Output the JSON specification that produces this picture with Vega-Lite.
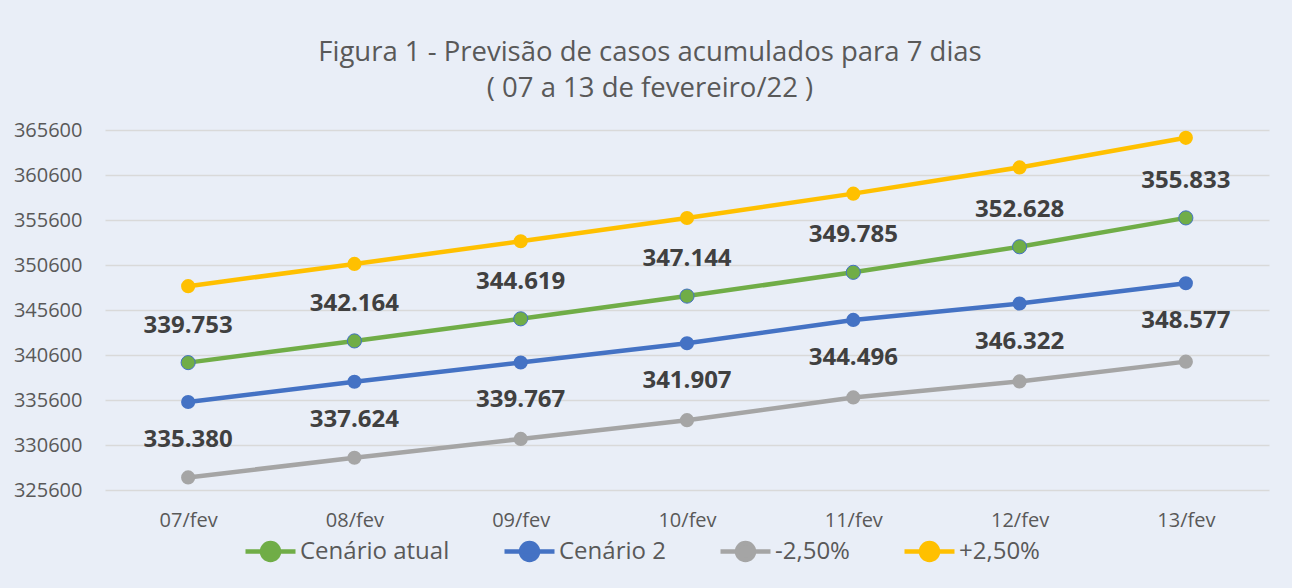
{
  "$schema": "https://vega.github.io/schema/vega-lite/v6.json",
  "width": 1164,
  "height": 360,
  "autosize": {"type": "none"},
  "padding": {"left": 105, "top": 130, "right": 23, "bottom": 98},
  "background": "#E9EEF7",
  "config": {
    "view": {"stroke": null},
    "font": "Open Sans",
    "locale": {"number": {"decimal": ",", "thousands": ".", "grouping": [3], "currency": ["", ""]}}
  },
  "title": {
    "text": ["Figura 1 - Previsão de casos acumulados para 7 dias", "( 07 a 13 de fevereiro/22 )"],
    "fontSize": 27.5,
    "fontWeight": "normal",
    "font": "Open Sans",
    "color": "#595959",
    "lineHeight": 36,
    "anchor": "middle",
    "dx": -37,
    "offset": 18
  },
  "data": {
    "values": [
      {"dia": "07/fev", "serie": "Cenário atual", "valor": 339753},
      {"dia": "08/fev", "serie": "Cenário atual", "valor": 342164},
      {"dia": "09/fev", "serie": "Cenário atual", "valor": 344619},
      {"dia": "10/fev", "serie": "Cenário atual", "valor": 347144},
      {"dia": "11/fev", "serie": "Cenário atual", "valor": 349785},
      {"dia": "12/fev", "serie": "Cenário atual", "valor": 352628},
      {"dia": "13/fev", "serie": "Cenário atual", "valor": 355833},
      {"dia": "07/fev", "serie": "Cenário 2", "valor": 335380},
      {"dia": "08/fev", "serie": "Cenário 2", "valor": 337624},
      {"dia": "09/fev", "serie": "Cenário 2", "valor": 339767},
      {"dia": "10/fev", "serie": "Cenário 2", "valor": 341907},
      {"dia": "11/fev", "serie": "Cenário 2", "valor": 344496},
      {"dia": "12/fev", "serie": "Cenário 2", "valor": 346322},
      {"dia": "13/fev", "serie": "Cenário 2", "valor": 348577},
      {"dia": "07/fev", "serie": "-2,50%", "valor": 326996},
      {"dia": "08/fev", "serie": "-2,50%", "valor": 329183},
      {"dia": "09/fev", "serie": "-2,50%", "valor": 331273},
      {"dia": "10/fev", "serie": "-2,50%", "valor": 333359},
      {"dia": "11/fev", "serie": "-2,50%", "valor": 335884},
      {"dia": "12/fev", "serie": "-2,50%", "valor": 337664},
      {"dia": "13/fev", "serie": "-2,50%", "valor": 339863},
      {"dia": "07/fev", "serie": "+2,50%", "valor": 348247},
      {"dia": "08/fev", "serie": "+2,50%", "valor": 350718},
      {"dia": "09/fev", "serie": "+2,50%", "valor": 353234},
      {"dia": "10/fev", "serie": "+2,50%", "valor": 355823},
      {"dia": "11/fev", "serie": "+2,50%", "valor": 358530},
      {"dia": "12/fev", "serie": "+2,50%", "valor": 361444},
      {"dia": "13/fev", "serie": "+2,50%", "valor": 364729}
    ]
  },
  "encoding": {
    "x": {
      "field": "dia",
      "type": "nominal",
      "sort": null,
      "scale": {"padding": 0.5},
      "axis": {
        "title": null,
        "labelAngle": 0,
        "domain": false,
        "ticks": false,
        "grid": false,
        "labelFontSize": 20,
        "labelColor": "#595959",
        "labelPadding": 20,
        "labelFont": "Open Sans"
      }
    },
    "y": {
      "field": "valor",
      "type": "quantitative",
      "scale": {"domain": [325600, 365600], "nice": false, "zero": false},
      "axis": {
        "title": null,
        "values": [325600, 330600, 335600, 340600, 345600, 350600, 355600, 360600, 365600],
        "format": "d",
        "domain": false,
        "ticks": false,
        "gridColor": "#D9D9D9",
        "gridWidth": 1.3,
        "labelFontSize": 20,
        "labelColor": "#595959",
        "labelPadding": 23,
        "labelFont": "Open Sans"
      }
    }
  },
  "layer": [
    {
      "mark": {"type": "line", "strokeWidth": 4.5},
      "encoding": {
        "color": {
          "field": "serie",
          "type": "nominal",
          "scale": {
            "domain": ["Cenário atual", "Cenário 2", "-2,50%", "+2,50%"],
            "range": ["#70AD47", "#4472C4", "#A5A5A5", "#FFC000"]
          },
          "legend": {
            "title": null,
            "orient": "none",
            "direction": "horizontal",
            "legendX": 138,
            "legendY": 394,
            "symbolType": "M-1,0L1,0M-0.34,0A0.34,0.34 0 1,0 0.34,0A0.34,0.34 0 1,0 -0.34,0Z",
            "symbolSize": 2500,
            "symbolStrokeWidth": 4.5,
            "labelFontSize": 24,
            "labelColor": "#595959",
            "labelFont": "Open Sans",
            "labelOffset": 2,
            "columnPadding": 45,
            "labelLimit": 300,
            "encode": {
              "symbols": {
                "update": {
                  "fill": {"scale": "color", "field": "value"},
                  "stroke": {"scale": "color", "field": "value"},
                  "opacity": {"value": 1}
                }
              }
            }
          }
        }
      }
    },
    {
      "mark": {"type": "point", "filled": true, "size": 200, "opacity": 1, "strokeWidth": 1},
      "encoding": {
        "color": {"field": "serie", "type": "nominal"},
        "stroke": {
          "condition": {"test": "datum.serie === 'Cenário atual'", "value": "#4472C4"},
          "value": null
        }
      }
    },
    {
      "transform": [{"filter": "datum.serie === 'Cenário atual'"}],
      "mark": {"type": "text", "dy": -37, "fontSize": 24, "fontWeight": "bold", "color": "#404040", "font": "Open Sans"},
      "encoding": {"text": {"field": "valor", "type": "quantitative", "format": ",d"}}
    },
    {
      "transform": [{"filter": "datum.serie === 'Cenário 2'"}],
      "mark": {"type": "text", "dy": 38, "fontSize": 24, "fontWeight": "bold", "color": "#404040", "font": "Open Sans"},
      "encoding": {"text": {"field": "valor", "type": "quantitative", "format": ",d"}}
    }
  ]
}
